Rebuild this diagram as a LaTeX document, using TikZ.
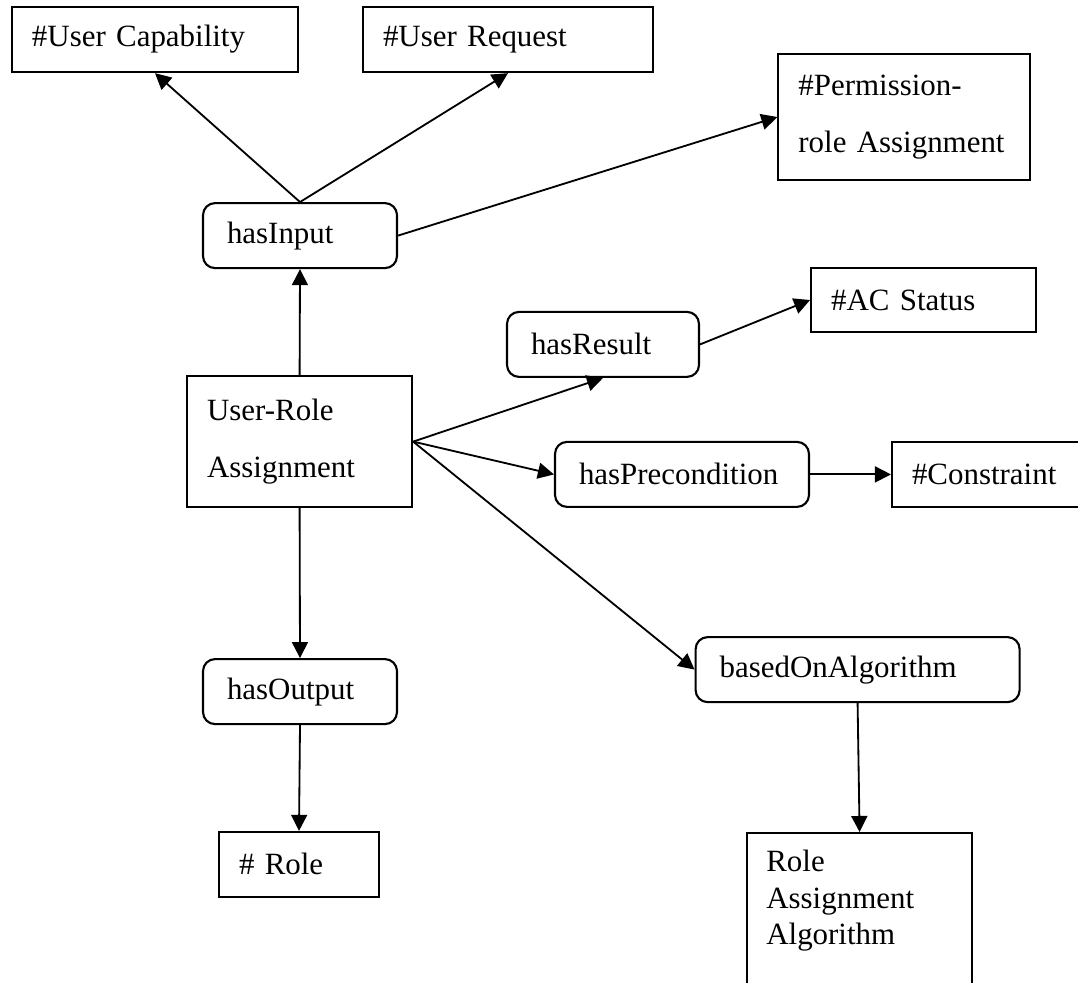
\documentclass[tikz,border=0pt]{standalone}
\usepackage{fontspec}
\setmainfont{Liberation Serif}
\usetikzlibrary{arrows.meta}
\tikzset{
  box/.style={draw, line width=1.5pt, inner xsep=0.5cm, inner ysep=0pt, align=left,
    font=\fontsize{22}{26}\selectfont},
  rbox/.style={box, rounded corners=0.3cm, inner xsep=0.6cm, minimum height=1.625cm},
  link/.style={-{Triangle[length=0.4cm,width=0.4cm]}, line width=1.3pt}
}
\begin{document}
\begin{tikzpicture}
  \useasboundingbox (0,0) rectangle (26.95,-24.55);
  \clip (0,0) rectangle (26.95,-24.55);

  % classes on top
  \node[box, text width=6.15cm, minimum height=1.625cm] (cap) at (3.875,-0.99) {\#User Capability};
  \node[box, text width=6.25cm, minimum height=1.625cm] (req) at (12.70,-0.99) {\#User Request};
  \node[box, text width=5.3cm, minimum height=3.15cm] (pra) at (22.61,-2.925) {\#Permission-\\[0.5cm]role Assignment};

  % properties
  \node[rbox, text width=3.65cm] (inp) at (7.50,-5.89) {hasInput};
  \node[rbox, text width=3.6cm] (res) at (15.075,-8.61) {hasResult};
  \node[rbox, text width=5.15cm] (pre) at (17.05,-11.86) {hasPrecondition};
  \node[rbox, text width=6.9cm] (alg) at (21.44,-16.74) {basedOnAlgorithm};
  \node[rbox, text width=3.65cm] (out) at (7.50,-17.29) {hasOutput};

  % main concept
  \node[box, text width=4.625cm, minimum height=3.275cm] (ura) at (7.49,-11.04) {User-Role\\[0.5cm]Assignment};

  % other classes
  \node[box, text width=4.625cm, minimum height=1.6cm] (acs) at (23.09,-7.5) {\#AC Status};
  \node[box, text width=4.2cm, minimum height=1.625cm] (con) at (24.9,-11.86) {\#Constraint};
  \node[box, text width=3.0cm, minimum height=1.625cm] (role) at (7.475,-21.61) {\# Role};
  \node[box, text width=4.625cm, minimum height=5cm, anchor=north] (raa) at (21.49,-20.8) {};
  \node[anchor=north west, align=left, inner sep=0pt, font=\fontsize{22}{26}\selectfont]
    (raatext) at ([xshift=0.5cm,yshift=-0.45cm]raa.north west) {Role\\Assignment\\Algorithm};

  % arrows
  \draw[link] (ura.north) -- (inp.south);
  \draw[link] (inp.north) -- (cap.south);
  \draw[link] (inp.north) -- (req.south);
  \draw[link] (inp.east) -- (pra.west);
  \draw[link] (ura.east) -- (res.south);
  \draw[link] (res.east) -- (acs.west);
  \draw[link] (ura.east) -- (pre.west);
  \draw[link] (pre.east) -- (con.west);
  \draw[link] (ura.east) -- (alg.west);
  \draw[link] (ura.south) -- (out.north);
  \draw[link] (out.south) -- (role.north);
  \draw[link] (alg.south) -- (raa.north);
\end{tikzpicture}
\end{document}
